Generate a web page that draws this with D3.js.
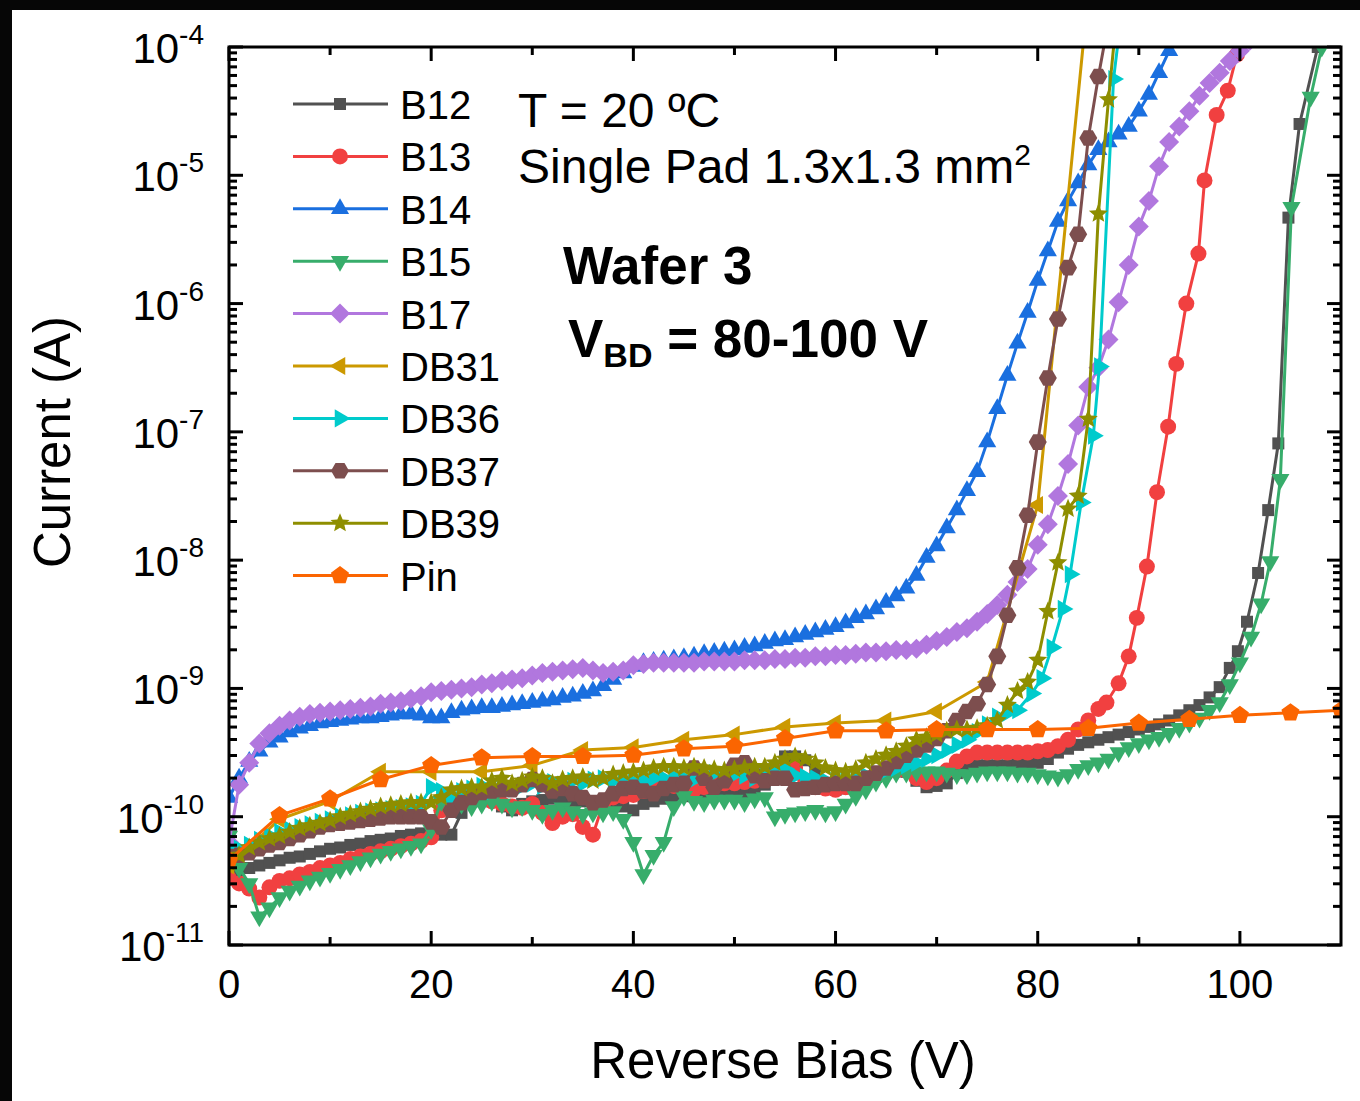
<!DOCTYPE html>
<html>
<head>
<meta charset="utf-8">
<script src="https://cdn.jsdelivr.net/npm/d3@7"></script>
<style>
  body { margin: 0; background: #fff; }
  svg { display: block; font-family: "Liberation Sans", Arial, sans-serif; }
</style>
</head>
<body>
<div id="chart"></div>
<script>
const width = 1360, height = 1101;

// each point: [reverse bias (V), log10 of current (A)]
const B12 = [[0,-10.45],[1,-10.42],[2,-10.40],[3,-10.38],[4,-10.36],[5,-10.34],[6,-10.32],[7,-10.31],[8,-10.29],[9,-10.27],
  [10,-10.25],[11,-10.24],[12,-10.22],[13,-10.21],[14,-10.19],[15,-10.18],[16,-10.17],[17,-10.15],[18,-10.14],[19,-10.13],
  [20,-10.14],[21,-10.14],[22,-10.14],[23,-9.97],[24,-9.88],[25,-9.80],[26,-9.88],[27,-9.92],[28,-9.95],[29,-9.90],
  [30,-9.88],[31,-9.87],[32,-9.86],[33,-9.88],[34,-9.90],[35,-9.88],[36,-9.90],[37,-9.92],[38,-9.90],[39,-9.92],
  [40,-9.95],[41,-9.90],[42,-9.88],[43,-9.86],[44,-9.85],[45,-9.84],[46,-9.84],[47,-9.84],[48,-9.83],[49,-9.82],
  [50,-9.82],[51,-9.81],[52,-9.81],[53,-9.75],[54,-9.65],[55,-9.53],[56,-9.53],[57,-9.56],[58,-9.65],[59,-9.75],
  [60,-9.79],[61,-9.78],[62,-9.77],[63,-9.72],[64,-9.69],[65,-9.66],[66,-9.62],[67,-9.65],[68,-9.72],[69,-9.77],
  [70,-9.76],[71,-9.74],[72,-9.66],[73,-9.61],[74,-9.60],[75,-9.60],[76,-9.60],[77,-9.60],[78,-9.59],[79,-9.58],
  [80,-9.58],[81,-9.55],[82,-9.50],[83,-9.47],[84,-9.44],[85,-9.42],[86,-9.40],[87,-9.38],[88,-9.36],[89,-9.34],
  [90,-9.32],[91,-9.30],[92,-9.28],[93,-9.25],[94,-9.21],[95,-9.17],[96,-9.13],[97,-9.07],[98,-8.99],[99,-8.84],
  [99.8,-8.71],[100.7,-8.48],[101.8,-8.10],[102.8,-7.61],[103.8,-7.09],[104.8,-5.33],[105.9,-4.60],[107.7,-4.00],[108.5,-3.7]];

const B13 = [[0,-10.48],[1,-10.52],[2,-10.56],[3,-10.63],[4,-10.55],[5,-10.50],[6,-10.48],[7,-10.45],[8,-10.43],[9,-10.40],
  [10,-10.38],[11,-10.36],[12,-10.33],[13,-10.31],[14,-10.29],[15,-10.27],[16,-10.25],[17,-10.23],[18,-10.21],[19,-10.19],
  [20,-10.16],[21,-9.95],[22,-9.88],[23,-9.86],[24,-9.86],[25,-9.87],[26,-9.88],[27,-9.90],[28,-9.92],[29,-9.93],
  [30,-9.90],[31,-9.97],[32,-10.05],[33,-10.00],[34,-9.98],[35,-10.08],[36,-10.14],[37,-9.90],[38,-9.85],[39,-9.84],
  [40,-9.83],[41,-9.80],[42,-9.76],[43,-9.74],[44,-9.76],[45,-9.78],[46,-9.79],[47,-9.77],[48,-9.75],[49,-9.74],
  [50,-9.74],[51,-9.73],[52,-9.72],[53,-9.71],[54,-9.68],[55,-9.63],[56,-9.62],[57,-9.72],[58,-9.77],[59,-9.78],
  [60,-9.79],[61,-9.77],[62,-9.74],[63,-9.70],[64,-9.67],[65,-9.65],[66,-9.64],[67,-9.64],[68,-9.70],[69,-9.73],
  [70,-9.70],[71,-9.64],[72,-9.57],[73,-9.53],[74,-9.50],[75,-9.50],[76,-9.50],[77,-9.50],[78,-9.50],[79,-9.50],
  [80,-9.49],[81,-9.48],[82,-9.45],[83,-9.40],[84,-9.32],[85,-9.25],[86,-9.16],[86.8,-9.11],[88,-8.96],[89,-8.75],
  [89.8,-8.45],[90.8,-8.05],[91.8,-7.47],[92.9,-6.96],[93.7,-6.47],[94.7,-6.00],[95.9,-5.61],[96.5,-5.04],[97.7,-4.53],
  [98.8,-4.34],[99.7,-4.06],[100.5,-3.75]];

const B14 = [[0,-9.85],[1,-9.70],[2,-9.57],[3,-9.49],[4,-9.42],[5,-9.38],[6,-9.34],[7,-9.31],[8,-9.29],[9,-9.27],
  [10,-9.26],[11,-9.25],[12,-9.24],[13,-9.23],[14,-9.23],[15,-9.22],[16,-9.21],[17,-9.20],[18,-9.20],[19,-9.21],
  [20,-9.23],[21,-9.23],[22,-9.19],[23,-9.17],[24,-9.16],[25,-9.15],[26,-9.15],[27,-9.14],[28,-9.13],[29,-9.12],
  [30,-9.11],[31,-9.10],[32,-9.09],[33,-9.07],[34,-9.06],[35,-9.04],[36,-9.02],[37,-8.98],[38,-8.93],[39,-8.88],
  [40,-8.83],[41,-8.80],[42,-8.79],[43,-8.78],[44,-8.77],[45,-8.76],[46,-8.75],[47,-8.73],[48,-8.72],[49,-8.71],
  [50,-8.70],[51,-8.68],[52,-8.67],[53,-8.65],[54,-8.63],[55,-8.62],[56,-8.60],[57,-8.58],[58,-8.56],[59,-8.54],
  [60,-8.52],[61,-8.49],[62,-8.45],[63,-8.42],[64,-8.38],[65,-8.33],[66,-8.28],[67,-8.22],[68,-8.12],[69,-7.98],
  [70,-7.89],[71,-7.75],[72,-7.61],[73,-7.46],[74,-7.31],[75,-7.08],[76,-6.82],[77,-6.56],[78,-6.31],[79,-6.07],
  [80,-5.82],[81,-5.59],[82,-5.36],[83,-5.20],[84,-5.06],[85,-4.92],[86,-4.80],[87,-4.74],[88,-4.68],[89,-4.62],
  [90,-4.50],[91,-4.37],[92,-4.20],[93,-4.03],[94,-3.85]];

const B15 = [[0,-10.15],[1,-10.40],[2,-10.52],[3,-10.78],[4,-10.71],[5,-10.63],[6,-10.58],[7,-10.54],[8,-10.50],[9,-10.47],
  [10,-10.44],[11,-10.41],[12,-10.38],[13,-10.35],[14,-10.32],[15,-10.29],[16,-10.27],[17,-10.25],[18,-10.23],[19,-10.21],
  [20,-10.10],[21,-9.88],[22,-9.88],[23,-9.90],[24,-9.92],[25,-9.90],[26,-9.88],[27,-9.90],[28,-9.93],[29,-9.92],
  [30,-9.95],[31,-9.98],[32,-9.95],[33,-9.93],[34,-9.96],[35,-9.98],[36,-9.97],[37,-9.97],[38,-9.96],[39,-10.02],
  [40,-10.20],[41,-10.45],[42,-10.30],[43,-10.20],[44,-9.92],[45,-9.84],[46,-9.88],[47,-9.89],[48,-9.87],[49,-9.87],
  [50,-9.87],[51,-9.89],[52,-9.86],[53,-9.85],[54,-10.00],[55,-9.98],[56,-9.97],[57,-9.96],[58,-9.95],[59,-9.97],
  [60,-9.96],[61,-9.90],[62,-9.84],[63,-9.79],[64,-9.73],[65,-9.70],[66,-9.66],[67,-9.66],[68,-9.65],[69,-9.65],
  [70,-9.65],[71,-9.66],[72,-9.67],[73,-9.67],[74,-9.66],[75,-9.65],[76,-9.65],[77,-9.65],[78,-9.66],[79,-9.66],
  [80,-9.67],[81,-9.68],[82,-9.69],[83,-9.67],[84,-9.63],[85,-9.60],[86,-9.58],[87,-9.55],[88,-9.50],[89,-9.46],
  [90,-9.43],[91,-9.40],[92,-9.38],[93,-9.35],[94,-9.31],[95,-9.27],[96,-9.23],[97,-9.17],[98,-9.11],[99,-8.97],
  [100,-8.80],[101.1,-8.60],[102.1,-8.34],[103,-8.01],[104,-7.37],[105.1,-5.25],[107,-4.39],[108.1,-4.00],[109,-3.7]];

const B17 = [[0,-10.20],[1,-9.75],[2,-9.58],[3,-9.43],[4,-9.35],[5,-9.29],[6,-9.25],[7,-9.22],[8,-9.20],[9,-9.19],
  [10,-9.18],[11,-9.17],[12,-9.16],[13,-9.15],[14,-9.14],[15,-9.12],[16,-9.11],[17,-9.10],[18,-9.08],[19,-9.06],
  [20,-9.03],[21,-9.02],[22,-9.01],[23,-9.00],[24,-8.99],[25,-8.97],[26,-8.96],[27,-8.94],[28,-8.93],[29,-8.92],
  [30,-8.90],[31,-8.88],[32,-8.87],[33,-8.86],[34,-8.85],[35,-8.84],[36,-8.86],[37,-8.88],[38,-8.87],[39,-8.86],
  [40,-8.82],[41,-8.81],[42,-8.80],[43,-8.80],[44,-8.80],[45,-8.80],[46,-8.80],[47,-8.79],[48,-8.79],[49,-8.79],
  [50,-8.79],[51,-8.78],[52,-8.78],[53,-8.78],[54,-8.77],[55,-8.77],[56,-8.76],[57,-8.76],[58,-8.75],[59,-8.75],
  [60,-8.74],[61,-8.74],[62,-8.73],[63,-8.72],[64,-8.72],[65,-8.71],[66,-8.70],[67,-8.70],[68,-8.69],[69,-8.66],
  [70,-8.63],[71,-8.60],[72,-8.56],[73,-8.53],[74,-8.48],[75,-8.42],[76,-8.35],[77,-8.27],[78,-8.17],[79,-8.07],
  [80,-7.88],[81,-7.72],[82,-7.50],[83,-7.25],[84,-6.95],[85,-6.65],[86,-6.50],[87,-6.28],[88,-5.99],[89,-5.70],
  [90,-5.40],[91,-5.20],[92,-4.93],[93,-4.74],[94,-4.62],[95,-4.50],[96,-4.38],[97,-4.28],[98,-4.20],[99,-4.11],
  [100,-4.03],[101,-3.95]];

const DB31 = [[0,-10.38],[5,-10.02],[10,-9.88],[15,-9.65],[20,-9.65],[25,-9.65],[30,-9.60],[35,-9.48],[40,-9.46],
  [45,-9.40],[50,-9.36],[55,-9.30],[60,-9.27],[65,-9.25],[70,-9.18],[75,-8.95],[80,-7.57],[85,-3.58]];

const DB36 = [[0,-10.25],[1,-10.25],[2,-10.22],[3,-10.18],[4,-10.15],[5,-10.12],[6,-10.10],[7,-10.08],[8,-10.06],[9,-10.04],
  [10,-10.02],[11,-10.00],[12,-9.99],[13,-9.97],[14,-9.96],[15,-9.95],[16,-9.94],[17,-9.93],[18,-9.92],[19,-9.90],
  [20,-9.77],[21,-9.80],[22,-9.85],[23,-9.80],[24,-9.78],[25,-9.76],[26,-9.80],[27,-9.75],[28,-9.78],[29,-9.76],
  [30,-9.74],[31,-9.76],[32,-9.73],[33,-9.75],[34,-9.72],[35,-9.74],[36,-9.71],[37,-9.70],[38,-9.72],[39,-9.72],
  [40,-9.73],[41,-9.72],[42,-9.70],[43,-9.70],[44,-9.69],[45,-9.70],[46,-9.71],[47,-9.69],[48,-9.66],[49,-9.68],
  [50,-9.67],[51,-9.68],[52,-9.70],[53,-9.68],[54,-9.66],[55,-9.63],[56,-9.68],[57,-9.69],[58,-9.70],[59,-9.72],
  [60,-9.72],[61,-9.71],[62,-9.70],[63,-9.68],[64,-9.66],[65,-9.64],[66,-9.62],[67,-9.60],[68,-9.58],[69,-9.55],
  [70,-9.52],[71,-9.48],[72,-9.44],[73,-9.40],[74,-9.34],[75,-9.28],[76,-9.22],[77,-9.19],[78,-9.17],[79.4,-9.04],
  [80.4,-8.92],[81.4,-8.68],[82.5,-8.38],[83.2,-8.11],[84.3,-7.55],[85.5,-7.03],[86.1,-6.49],[87.5,-4.25],[88.5,-3.6]];

const DB37 = [[0,-10.31],[1,-10.30],[2,-10.28],[3,-10.25],[4,-10.22],[5,-10.20],[6,-10.17],[7,-10.14],[8,-10.11],[9,-10.08],
  [10,-10.06],[11,-10.05],[12,-10.04],[13,-10.03],[14,-10.02],[15,-10.01],[16,-10.00],[17,-10.00],[18,-10.00],[19,-10.00],
  [20,-10.04],[21,-10.08],[22,-9.95],[23,-9.89],[24,-9.85],[25,-9.81],[26,-9.80],[27,-9.79],[28,-9.79],[29,-9.75],
  [30,-9.71],[31,-9.75],[32,-9.80],[33,-9.78],[34,-9.82],[35,-9.85],[36,-9.89],[37,-9.87],[38,-9.82],[39,-9.78],
  [40,-9.77],[41,-9.80],[42,-9.82],[43,-9.78],[44,-9.75],[45,-9.74],[46,-9.62],[47,-9.70],[48,-9.77],[49,-9.72],
  [50,-9.60],[51,-9.58],[52,-9.68],[53,-9.72],[54,-9.70],[55,-9.70],[56,-9.79],[57,-9.78],[58,-9.77],[59,-9.75],
  [60,-9.74],[61,-9.74],[62,-9.74],[63,-9.70],[64,-9.66],[65,-9.62],[66,-9.57],[67,-9.52],[68,-9.48],[69,-9.44],
  [70,-9.39],[71,-9.33],[72,-9.25],[73,-9.18],[74,-9.12],[75,-8.97],[76,-8.75],[77,-8.43],[78,-8.06],[79,-7.65],
  [80,-7.08],[81,-6.58],[82,-6.12],[83,-5.72],[84,-5.46],[85,-4.71],[86,-4.23],[87,-3.80]];

const DB39 = [[0,-10.36],[1,-10.30],[2,-10.24],[3,-10.20],[4,-10.17],[5,-10.15],[6,-10.12],[7,-10.09],[8,-10.07],[9,-10.05],
  [10,-10.03],[11,-10.00],[12,-9.98],[13,-9.96],[14,-9.94],[15,-9.92],[16,-9.91],[17,-9.90],[18,-9.89],[19,-9.89],
  [20,-9.89],[21,-9.85],[22,-9.79],[23,-9.78],[24,-9.77],[25,-9.77],[26,-9.72],[27,-9.70],[28,-9.74],[29,-9.72],
  [30,-9.69],[31,-9.70],[32,-9.74],[33,-9.71],[34,-9.70],[35,-9.69],[36,-9.72],[37,-9.70],[38,-9.67],[39,-9.66],
  [40,-9.65],[41,-9.64],[42,-9.62],[43,-9.61],[44,-9.61],[45,-9.62],[46,-9.61],[47,-9.62],[48,-9.63],[49,-9.64],
  [50,-9.63],[51,-9.62],[52,-9.61],[53,-9.61],[54,-9.58],[55,-9.55],[56,-9.53],[57,-9.55],[58,-9.58],[59,-9.62],
  [60,-9.64],[61,-9.65],[62,-9.63],[63,-9.58],[64,-9.55],[65,-9.52],[66,-9.49],[67,-9.45],[68,-9.40],[69,-9.38],
  [70,-9.36],[71,-9.33],[72,-9.32],[73,-9.32],[74,-9.31],[75,-9.29],[76,-9.25],[77,-9.13],[78,-9.02],[79,-8.95],
  [80,-8.78],[81,-8.40],[82,-8.02],[83,-7.60],[84,-7.50],[85,-6.90],[86,-5.30],[87,-4.41],[88,-3.60]];

const Pin = [[0,-10.34],[5,-9.99],[10,-9.86],[15,-9.71],[20,-9.60],[25,-9.54],[30,-9.53],[35,-9.53],[40,-9.52],
  [45,-9.47],[50,-9.45],[55,-9.39],[60,-9.33],[65,-9.33],[70,-9.32],[75,-9.32],[80,-9.32],[85,-9.31],[90,-9.27],
  [95,-9.24],[100,-9.21],[105,-9.19],[110,-9.17]];

const seriesNames = ['B12','B13','B14','B15','B17','DB31','DB36','DB37','DB39','Pin'];
const seriesData = [B12, B13, B14, B15, B17, DB31, DB36, DB37, DB39, Pin];
const seriesColors = ['#515151','#f14040','#1a6fdf','#37ad6b','#b177de','#cc9900','#00cbcc','#7d4e4e','#8e8e00','#fb6501'];
const seriesMarkers = ['square','circle','up','down','diamond','left','right','hexagon','star','pentagon'];

const xTicks = [0, 20, 40, 60, 80, 100];
const xMinorTicks = [10, 30, 50, 70, 90];
const yExponents = [-11, -10, -9, -8, -7, -6, -5, -4];

const margin = {left: 229, right: 1341, top: 47, bottom: 945};

const x = d3.scaleLinear().domain([0, 110]).range([margin.left, margin.right]);
const y = d3.scaleLog().domain([1e-11, 1e-4]).range([margin.bottom, margin.top]);

const svg = d3.select('#chart').append('svg').attr('width', width).attr('height', height);

svg.append('rect').attr('width', width).attr('height', height).attr('fill', '#fff');
// dark edges of the photographed slide
svg.append('rect').attr('x', 0).attr('y', 0).attr('width', width).attr('height', 10).attr('fill', '#060606');
svg.append('rect').attr('x', 0).attr('y', 0).attr('width', 12).attr('height', height).attr('fill', '#060606');

svg.append('clipPath').attr('id', 'plotclip')
  .append('rect')
  .attr('x', margin.left).attr('y', margin.top)
  .attr('width', margin.right - margin.left).attr('height', margin.bottom - margin.top);

function polygon(n, r, rot) {
  const pts = d3.range(n).map(i => {
    const a = rot + i * 2 * Math.PI / n;
    return [r * Math.cos(a), r * Math.sin(a)];
  });
  return 'M' + pts.map(p => p[0].toFixed(2) + ',' + p[1].toFixed(2)).join('L') + 'Z';
}

function starPath(r) {
  const pts = d3.range(10).map(i => {
    const rr = i % 2 ? r * 0.45 : r;
    const a = -Math.PI / 2 + i * Math.PI / 5;
    return [rr * Math.cos(a), rr * Math.sin(a)];
  });
  return 'M' + pts.map(p => p[0].toFixed(2) + ',' + p[1].toFixed(2)).join('L') + 'Z';
}

const markerPaths = {
  square: 'M-6,-6L6,-6L6,6L-6,6Z',
  circle: d3.symbol(d3.symbolCircle, 200)(),
  up: polygon(3, 10.5, -Math.PI / 2),
  down: polygon(3, 10.5, Math.PI / 2),
  diamond: polygon(4, 10, 0),
  left: polygon(3, 10.5, Math.PI),
  right: polygon(3, 10.5, 0),
  hexagon: polygon(6, 9, 0),
  star: starPath(10),
  pentagon: polygon(5, 9.5, -Math.PI / 2)
};

const line = d3.line()
  .x(d => x(d[0]))
  .y(d => y(Math.pow(10, d[1])));

const plot = svg.append('g').attr('clip-path', 'url(#plotclip)');

seriesData.forEach((data, i) => {
  const g = plot.append('g');
  g.append('path')
    .datum(data)
    .attr('d', line)
    .attr('fill', 'none')
    .attr('stroke', seriesColors[i])
    .attr('stroke-width', 3)
    .attr('stroke-linejoin', 'round');
  g.selectAll('path.mk')
    .data(data)
    .enter().append('path')
      .attr('class', 'mk')
      .attr('d', markerPaths[seriesMarkers[i]])
      .attr('transform', d => `translate(${x(d[0])},${y(Math.pow(10, d[1]))})`)
      .attr('fill', seriesColors[i]);
});

// frame and inward ticks on all four sides
const axes = svg.append('g').attr('stroke', '#000').attr('stroke-width', 3);

axes.append('rect')
  .attr('x', margin.left).attr('y', margin.top)
  .attr('width', margin.right - margin.left).attr('height', margin.bottom - margin.top)
  .attr('fill', 'none');

const xTickList = xTicks.map(v => ({v, len: 14})).concat(xMinorTicks.map(v => ({v, len: 8})));
xTickList.forEach(t => {
  axes.append('line').attr('x1', x(t.v)).attr('x2', x(t.v)).attr('y1', margin.bottom).attr('y2', margin.bottom - t.len);
  axes.append('line').attr('x1', x(t.v)).attr('x2', x(t.v)).attr('y1', margin.top).attr('y2', margin.top + t.len);
});

const yTickList = [];
yExponents.forEach(e => {
  yTickList.push({v: Math.pow(10, e), len: 14});
  if (e < -4) d3.range(2, 10).forEach(m => yTickList.push({v: m * Math.pow(10, e), len: 8}));
});
yTickList.forEach(t => {
  axes.append('line').attr('y1', y(t.v)).attr('y2', y(t.v)).attr('x1', margin.left).attr('x2', margin.left + t.len);
  axes.append('line').attr('y1', y(t.v)).attr('y2', y(t.v)).attr('x1', margin.right).attr('x2', margin.right - t.len);
});

// tick labels
svg.append('g').selectAll('text')
  .data(xTicks)
  .enter().append('text')
    .attr('x', d => x(d))
    .attr('y', 998)
    .attr('text-anchor', 'middle')
    .attr('font-size', 40)
    .text(d => d);

const yLabels = svg.append('g').selectAll('text')
  .data(yExponents)
  .enter().append('text')
    .attr('x', 204)
    .attr('y', d => y(Math.pow(10, d)) + 16)
    .attr('text-anchor', 'end')
    .attr('font-size', 42);
yLabels.append('tspan').text('10');
yLabels.append('tspan').attr('dy', -19).attr('font-size', 28).text(d => '-' + Math.abs(d));

// axis titles
svg.append('text')
  .attr('x', 783).attr('y', 1078)
  .attr('text-anchor', 'middle')
  .attr('font-size', 51)
  .text('Reverse Bias (V)');

svg.append('text')
  .attr('transform', 'translate(70,442) rotate(-90)')
  .attr('text-anchor', 'middle')
  .attr('font-size', 51)
  .text('Current (A)');

// legend
const legend = svg.append('g');
seriesNames.forEach((name, i) => {
  const ly = 104 + i * 52.4;
  const row = legend.append('g');
  row.append('line').attr('x1', 293).attr('x2', 388).attr('y1', ly).attr('y2', ly)
    .attr('stroke', seriesColors[i]).attr('stroke-width', 3);
  row.append('path').attr('d', markerPaths[seriesMarkers[i]])
    .attr('transform', `translate(340,${ly})`).attr('fill', seriesColors[i]);
  row.append('text').attr('x', 400).attr('y', ly + 15).attr('font-size', 40).text(name);
});

// annotations
svg.append('text').attr('x', 518).attr('y', 127).attr('font-size', 48).text('T = 20 ºC');
const pad = svg.append('text').attr('x', 518).attr('y', 183).attr('font-size', 48);
pad.append('tspan').text('Single Pad 1.3x1.3 mm');
pad.append('tspan').attr('dy', -18).attr('font-size', 30).text('2');

svg.append('text').attr('x', 563).attr('y', 284).attr('font-size', 53).attr('font-weight', 'bold').text('Wafer 3');
const vbd = svg.append('text').attr('x', 568).attr('y', 357).attr('font-size', 53).attr('font-weight', 'bold');
vbd.append('tspan').text('V');
vbd.append('tspan').attr('dy', 10).attr('font-size', 34).text('BD');
vbd.append('tspan').attr('dy', -10).text(' = 80-100 V');
</script>
</body>
</html>
